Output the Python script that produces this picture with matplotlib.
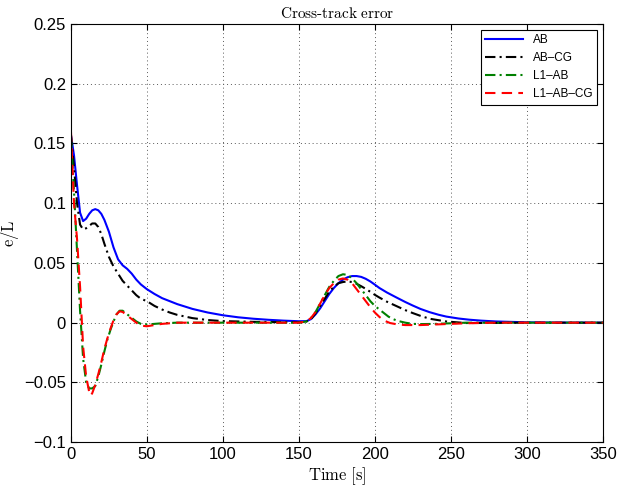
import matplotlib
matplotlib.use("Agg")
from matplotlib import pyplot as plt

plt.rcParams['mathtext.fontset'] = 'cm'
plt.rcParams['font.family'] = ['Liberation Sans', 'DejaVu Sans']

# AB
t_ab = [0, 2, 4, 6, 8, 10, 12, 14, 16, 18, 20, 22, 25, 28, 31, 34, 37, 40, 43, 46, 50, 55, 60,
        70, 80, 90, 100, 110, 120, 130, 140, 150, 155, 158, 161, 164, 167, 170, 173, 176, 179,
        182, 185, 188, 191, 194, 197, 200, 203, 208, 214, 220, 225, 230, 236, 242, 247, 255,
        262, 270, 280, 300, 320, 350]
e_ab = [0.157, 0.14, 0.115, 0.092, 0.085, 0.087, 0.091, 0.094, 0.095, 0.094, 0.091, 0.086, 0.076,
        0.063, 0.053, 0.048, 0.045, 0.041, 0.036, 0.032, 0.028, 0.024, 0.0205, 0.0155, 0.0115,
        0.0085, 0.0062, 0.0045, 0.0033, 0.0024, 0.0017, 0.0012, 0.0013, 0.003, 0.007, 0.012,
        0.018, 0.024, 0.029, 0.033, 0.036, 0.038, 0.039, 0.039, 0.0383, 0.0367, 0.0345, 0.0318,
        0.029, 0.0252, 0.0212, 0.0173, 0.0143, 0.0115, 0.0088, 0.0066, 0.0051, 0.0035, 0.0025,
        0.0017, 0.001, 0.0003, 0.0001, 0]

# AB-CG
t_abcg = [0, 2, 4, 6, 8, 10, 12, 14, 16, 18, 20, 22, 25, 28, 31, 34, 37, 40, 43, 46, 50, 55, 60,
          65, 70, 80, 90, 100, 120, 140, 150, 155, 158, 161, 164, 167, 170, 173, 176, 179, 182,
          185, 188, 191, 194, 197, 200, 203, 208, 214, 220, 225, 230, 236, 247, 260, 280, 300, 350]
e_abcg = [0.157, 0.13, 0.1, 0.082, 0.078, 0.079, 0.081, 0.083, 0.083, 0.08, 0.074, 0.066, 0.055,
          0.047, 0.041, 0.035, 0.031, 0.027, 0.023, 0.02, 0.018, 0.014, 0.011, 0.0085, 0.0065,
          0.0038, 0.0022, 0.0013, 0.0007, 0.0004, 0.0003, 0.001, 0.003, 0.008, 0.014, 0.02, 0.026,
          0.03, 0.033, 0.034, 0.0345, 0.034, 0.0325, 0.0305, 0.0283, 0.0258, 0.0233, 0.021, 0.0175,
          0.014, 0.0105, 0.008, 0.0057, 0.0033, 0.001, -0.0003, -0.0002, 0, 0]

# L1-AB
t_l1 = [0, 2, 4, 6, 8, 10, 12, 14, 16, 18, 20, 22, 24, 26, 28, 30, 32, 34, 36, 38, 40, 43, 46, 50,
        55, 60, 70, 80, 100, 150, 155, 158, 161, 164, 167, 170, 173, 176, 179, 182, 185, 188, 191,
        194, 197, 200, 203, 206, 209, 212, 215, 220, 225, 230, 240, 250, 260, 280, 350]
e_l1 = [0.155, 0.11, 0.06, 0.01, -0.03, -0.05, -0.055, -0.055, -0.053, -0.045, -0.035, -0.024,
        -0.014, -0.006, 0.001, 0.007, 0.010, 0.010, 0.008, 0.006, 0.004, 0.001, -0.001, -0.0015,
        -0.001, -0.0005, 0, 0, 0, 0, 0.001, 0.004, 0.009, 0.016, 0.023, 0.030, 0.035, 0.039,
        0.0405, 0.040, 0.037, 0.033, 0.028, 0.023, 0.018, 0.014, 0.011, 0.008, 0.005, 0.003,
        0.0015, 0, -0.001, -0.0012, -0.001, -0.0005, 0, 0, 0]

# L1-AB-CG
t_l1cg = [0, 2, 4, 6, 8, 10, 12, 13, 14, 16, 18, 20, 22, 24, 26, 28, 30, 32, 34, 36, 38, 40, 43,
          46, 50, 55, 60, 70, 80, 100, 150, 155, 158, 161, 164, 167, 170, 173, 176, 179, 182, 185,
          188, 191, 194, 197, 200, 203, 206, 210, 215, 220, 230, 240, 250, 260, 280, 350]
e_l1cg = [0.16, 0.1, 0.07, 0.03, -0.02, -0.045, -0.058, -0.061, -0.059, -0.052, -0.043, -0.033,
          -0.022, -0.013, -0.005, 0.002, 0.007, 0.0095, 0.009, 0.007, 0.005, 0.003, 0, -0.0025,
          -0.003, -0.002, -0.001, 0, 0, 0, 0, 0.001, 0.004, 0.009, 0.016, 0.023, 0.029, 0.033,
          0.036, 0.037, 0.036, 0.033, 0.028, 0.023, 0.018, 0.013, 0.0085, 0.0048, 0.0018, -0.0003,
          -0.0015, -0.002, -0.002, -0.0015, -0.001, -0.0005, 0, 0]

fig = plt.figure(figsize=(6.17, 4.87), dpi=100)
ax = fig.add_axes([0.115, 0.092, 0.862, 0.859])

ax.plot(t_ab, e_ab, color='blue', lw=1.5, label='AB')
ax.plot(t_abcg, e_abcg, color='black', lw=1.5, linestyle=(0, (5, 2, 1, 2)), label='AB\u2013CG')
ax.plot(t_l1, e_l1, color='green', lw=1.5, linestyle=(0, (5, 2, 1, 2)), label='L1\u2013AB')
ax.plot(t_l1cg, e_l1cg, color='red', lw=1.5, linestyle=(0, (5, 3)), label='L1\u2013AB\u2013CG')

ax.set_xlim(0, 350)
ax.set_ylim(-0.1, 0.25)
ax.set_xticks([0, 50, 100, 150, 200, 250, 300, 350])
ax.set_yticks([-0.1, -0.05, 0, 0.05, 0.1, 0.15, 0.2, 0.25])
ax.set_yticklabels(['\u22120.1', '\u22120.05', '0', '0.05', '0.1', '0.15', '0.2', '0.25'])
ax.tick_params(direction='in', top=True, right=True, labelsize=12, length=4)
ax.grid(True, linestyle=(0, (1, 3)), color='0.35', lw=0.7)

ax.set_title(r'$\mathrm{Cross\text{-}track\ error}$', fontsize=11, pad=4)
ax.set_xlabel(r'$\mathrm{Time\ [s]}$', fontsize=12, labelpad=2)
ax.set_ylabel(r'$\mathrm{e/L}$', fontsize=12, labelpad=2)

leg = ax.legend(loc='upper right', fontsize=8.5, fancybox=False, framealpha=1,
                edgecolor='black', handlelength=3.2, borderaxespad=0.5)
leg.get_frame().set_linewidth(0.8)

fig.savefig('out.png', dpi=100)
